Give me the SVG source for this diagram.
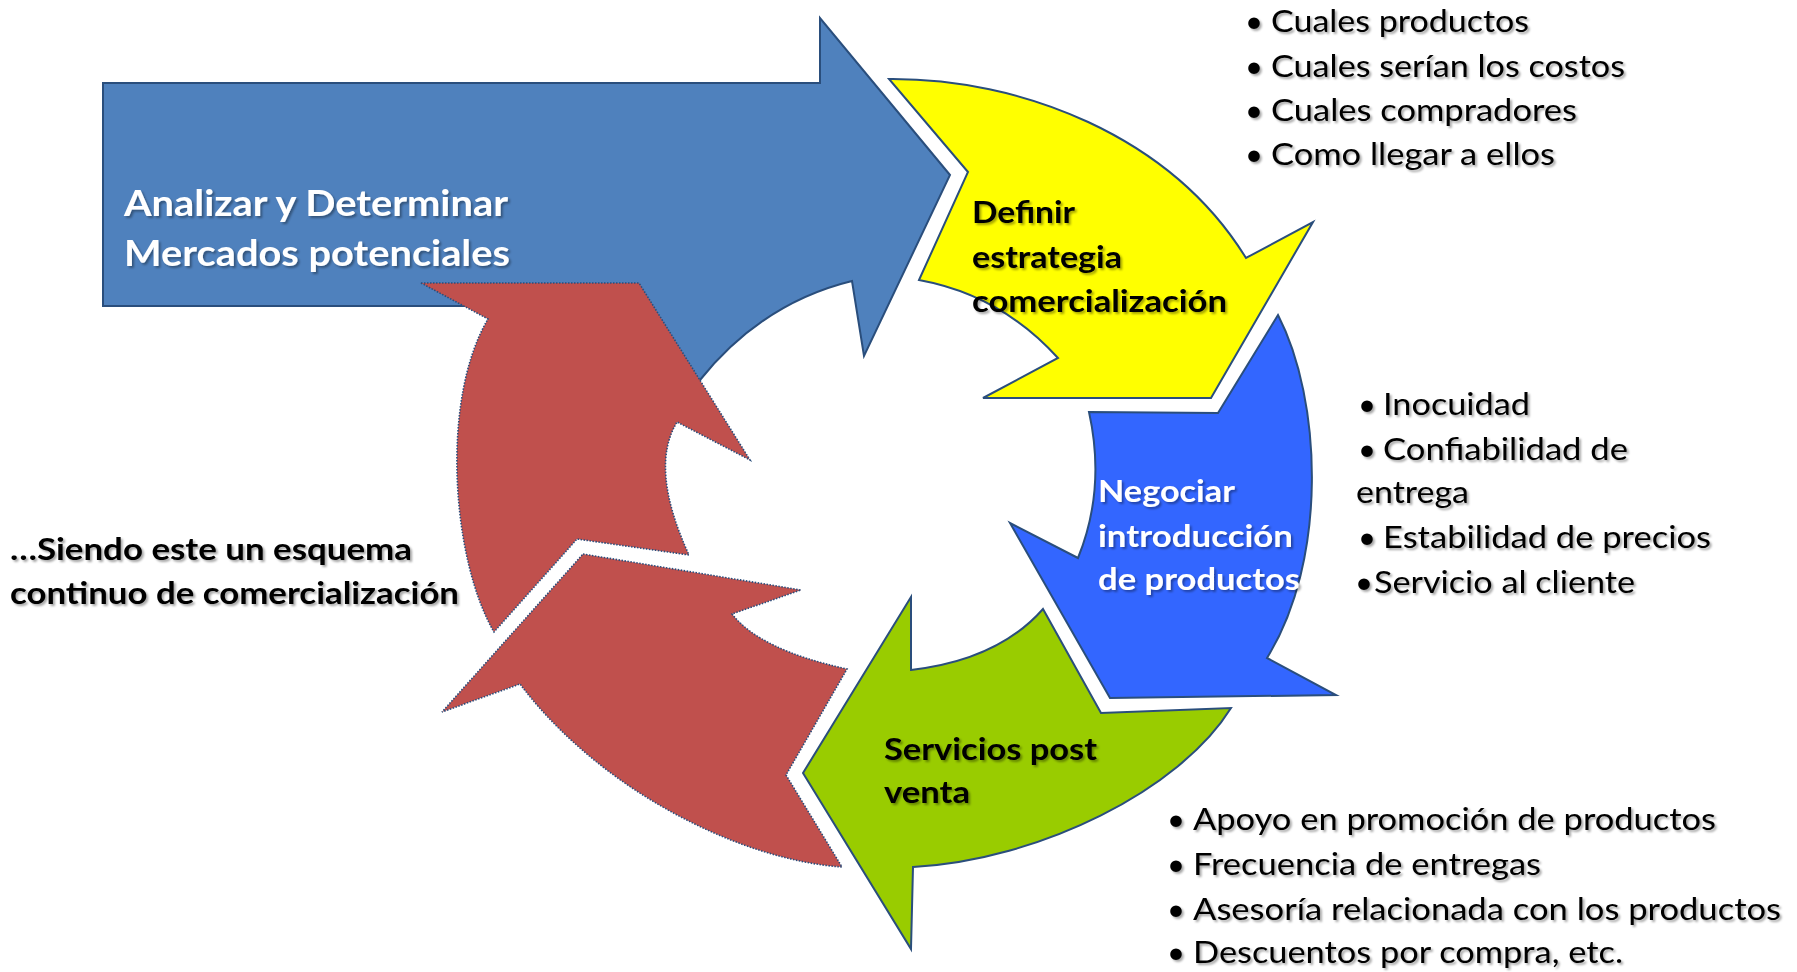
<svg xmlns="http://www.w3.org/2000/svg" width="1797" height="972" viewBox="0 0 1797 972">
<style>
.shape{stroke:#2A4E7C;stroke-width:2;stroke-linejoin:miter}
.dot{stroke:#2A4E7C;stroke-width:1.6;stroke-dasharray:1.5 1.5}
.lb{font-family:Lato,"Liberation Sans",sans-serif;font-weight:bold;font-size:31px}
.big{font-family:Lato,"Liberation Sans",sans-serif;font-weight:bold;font-size:37px;fill:#fff}
.bl{font-family:Lato,"Liberation Sans",sans-serif;font-size:31px;fill:#000}
.w{fill:#fff}
.k{fill:#000}
</style>
<defs>
<filter id="sh" x="-5%" y="-20%" width="110%" height="140%">
<feDropShadow dx="2" dy="2" stdDeviation="1.2" flood-color="#000" flood-opacity="0.35"/>
</filter>
</defs>
<g id="connectors"></g>
<g id="analizar">
<path class="shape" fill="#4F81BD" d="M103,83 H820 V18 L950,175 L864,356 L852,281 Q762,303 700,380 L680,405 L560,306 H103 Z"/>
<g filter="url(#sh)">
<text class="big" x="124" y="216" textLength="384" lengthAdjust="spacingAndGlyphs">Analizar y Determinar</text>
<text class="big" x="124" y="266" textLength="386" lengthAdjust="spacingAndGlyphs">Mercados potenciales</text>
</g>
</g>
<g id="definir">
<path class="shape" fill="#FFFF00" d="M889,79 C1020,78 1170,135 1246,258 L1313,222 L1211,398 L983,398 L1058,358 Q1001,295 919,280 L968,172 Z"/>
<g filter="url(#sh)">
<text class="lb k" x="972" y="223" textLength="103" lengthAdjust="spacingAndGlyphs">Definir</text>
<text class="lb k" x="972" y="268" textLength="150" lengthAdjust="spacingAndGlyphs">estrategia</text>
<text class="lb k" x="972" y="312" textLength="255" lengthAdjust="spacingAndGlyphs">comercialización</text>
</g>
</g>
<g id="negociar">
<path class="shape" fill="#3366FF" d="M1089,412 L1218,413 L1278,315 C1322,400 1328,560 1267,658 L1336,695 L1110,698 L1010,523 L1078,558 Q1106,489 1089,412 Z"/>
<g filter="url(#sh)">
<text class="lb w" x="1098" y="502" textLength="137" lengthAdjust="spacingAndGlyphs">Negociar</text>
<text class="lb w" x="1098" y="547" textLength="195" lengthAdjust="spacingAndGlyphs">introducción</text>
<text class="lb w" x="1098" y="590" textLength="202" lengthAdjust="spacingAndGlyphs">de productos</text>
</g>
</g>
<g id="servicios">
<path class="shape" fill="#99CC00" d="M911,597 L911,670 Q998,660 1043,609 L1101,713 L1231,708 C1180,790 1040,860 913,867 L911,949 L803,773 Z"/>
<g filter="url(#sh)">
<text class="lb k" x="884" y="760" textLength="213" lengthAdjust="spacingAndGlyphs">Servicios post</text>
<text class="lb k" x="884" y="803" textLength="86" lengthAdjust="spacingAndGlyphs">venta</text>
</g>
</g>
<g id="continuo-arriba">
<path class="dot" fill="#C0504D" d="M421,283 L639,283 L750,460 L677,422 Q649,468 689,555 L577,539 L494,632 C452,560 440,400 488,319 Z"/>
</g>
<g id="continuo-abajo">
<path class="dot" fill="#C0504D" d="M583,554 L801,590 L732,614 Q760,650 847,669 L786,775 L842,867 C740,860 600,790 520,684 L442,712 Z"/>
</g>
<g id="nota" filter="url(#sh)">
<text class="lb k" x="10" y="560" textLength="402" lengthAdjust="spacingAndGlyphs">…Siendo este un esquema</text>
<text class="lb k" x="10" y="604" textLength="449" lengthAdjust="spacingAndGlyphs">continuo de comercialización</text>
</g>
<g id="lista-estrategia" filter="url(#sh)">
<text class="bl" x="1245" y="32">•</text><text class="bl" x="1271" y="32" textLength="258" lengthAdjust="spacingAndGlyphs">Cuales productos</text>
<text class="bl" x="1245" y="77">•</text><text class="bl" x="1271" y="77" textLength="354" lengthAdjust="spacingAndGlyphs">Cuales serían los costos</text>
<text class="bl" x="1245" y="121">•</text><text class="bl" x="1271" y="121" textLength="306" lengthAdjust="spacingAndGlyphs">Cuales compradores</text>
<text class="bl" x="1245" y="165">•</text><text class="bl" x="1271" y="165" textLength="284" lengthAdjust="spacingAndGlyphs">Como llegar a ellos</text>
</g>
<g id="lista-negociar" filter="url(#sh)">
<text class="bl" x="1358" y="415">•</text><text class="bl" x="1383" y="415" textLength="147" lengthAdjust="spacingAndGlyphs">Inocuidad</text>
<text class="bl" x="1358" y="460">•</text><text class="bl" x="1383" y="460" textLength="245" lengthAdjust="spacingAndGlyphs">Confiabilidad de</text>
<text class="bl" x="1356" y="503" textLength="113" lengthAdjust="spacingAndGlyphs">entrega</text>
<text class="bl" x="1358" y="548">•</text><text class="bl" x="1383" y="548" textLength="328" lengthAdjust="spacingAndGlyphs">Estabilidad de precios</text>
<text class="bl" x="1355" y="593">•</text><text class="bl" x="1374" y="593" textLength="261" lengthAdjust="spacingAndGlyphs">Servicio al cliente</text>
</g>
<g id="lista-servicios" filter="url(#sh)">
<text class="bl" x="1167" y="830">•</text><text class="bl" x="1193" y="830" textLength="523" lengthAdjust="spacingAndGlyphs">Apoyo en promoción de productos</text>
<text class="bl" x="1167" y="875">•</text><text class="bl" x="1193" y="875" textLength="348" lengthAdjust="spacingAndGlyphs">Frecuencia de entregas</text>
<text class="bl" x="1167" y="920">•</text><text class="bl" x="1193" y="920" textLength="588" lengthAdjust="spacingAndGlyphs">Asesoría relacionada con los productos</text>
<text class="bl" x="1167" y="963">•</text><text class="bl" x="1193" y="963" textLength="430" lengthAdjust="spacingAndGlyphs">Descuentos por compra, etc.</text>
</g>
</svg>
